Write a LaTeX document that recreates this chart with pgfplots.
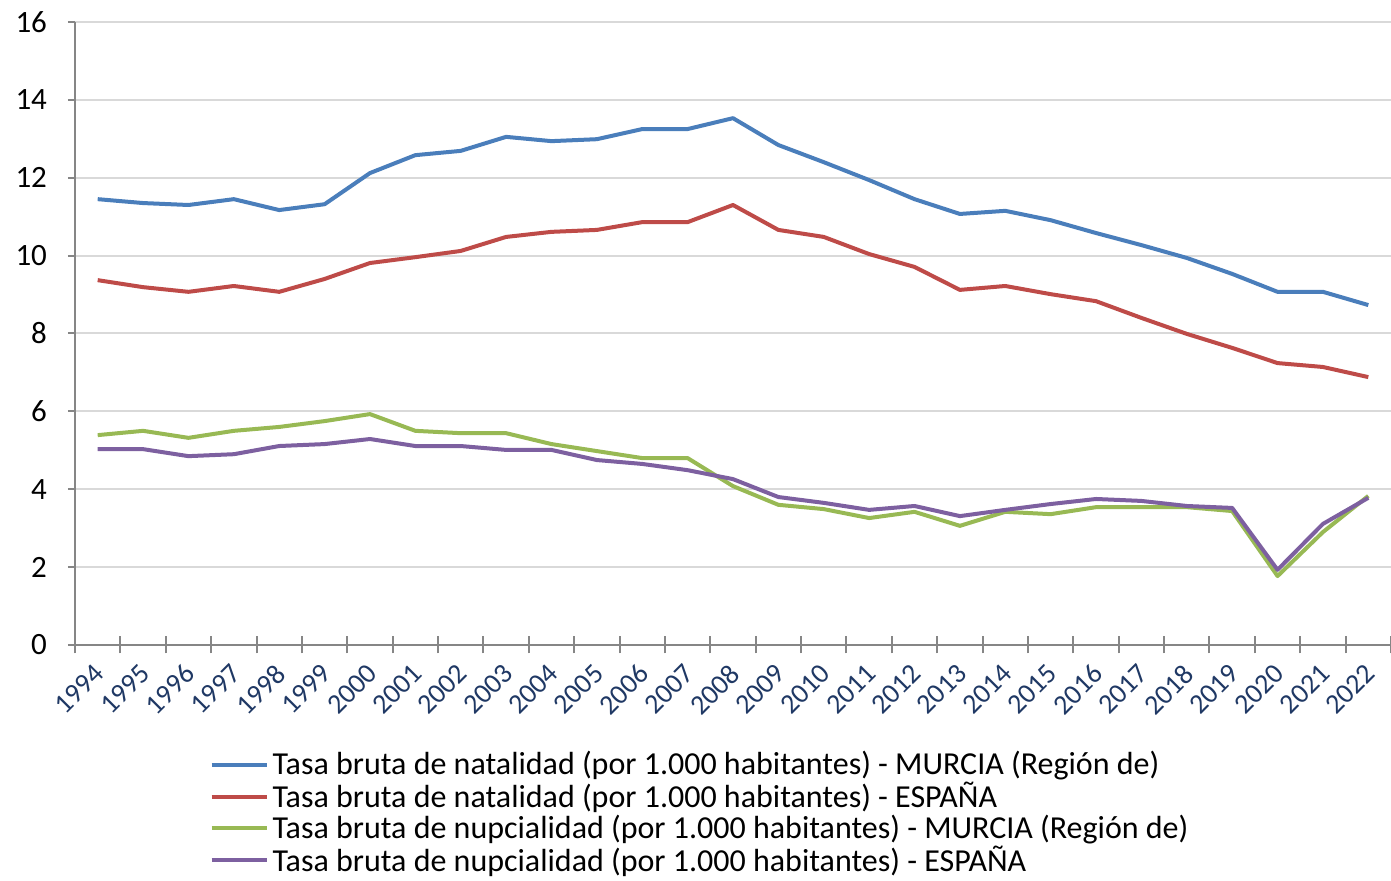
\documentclass[border=0pt]{standalone}
\usepackage{pgfplots}
\pgfplotsset{compat=1.18}
\usepackage{fontspec}
\setmainfont{Carlito}
\definecolor{cblue}{HTML}{4A7EBB}
\definecolor{cred}{HTML}{BE4B48}
\definecolor{cgreen}{HTML}{98B954}
\definecolor{cpurple}{HTML}{7D60A0}
\definecolor{navy}{HTML}{1F3864}
\definecolor{axgray}{HTML}{868686}
\definecolor{gridgray}{HTML}{D9D9D9}
\begin{document}
\begin{tikzpicture}
\begin{axis}[
  scale only axis, width=658pt, height=311.5pt,
  xmin=-0.5, xmax=28.5, ymin=0, ymax=16,
  axis x line*=bottom, axis y line*=left,
  axis line style={axgray, line width=1pt, -},
  ytick={0,2,...,16},
  ymajorgrids, major grid style={gridgray, line width=1pt},
  y tick style={axgray, line width=1pt}, ytick align=outside,
  y tick label style={font=\fontsize{15.5}{18}\selectfont, black, xshift=-7pt},
  major tick length=3.5pt, minor tick length=8.5pt,
  /pgf/number format/assume math mode=true,
  xtick={0,...,28},
  xticklabels={1994,1995,1996,1997,1998,1999,2000,2001,2002,2003,2004,2005,2006,2007,2008,2009,2010,2011,2012,2013,2014,2015,2016,2017,2018,2019,2020,2021,2022},
  major x tick style={draw=none},
  minor xtick={-0.5,0.5,...,28.5},
  minor x tick style={axgray, line width=1pt},
  xtick align=center,
  xticklabel style={font=\fontsize{14}{16}\selectfont, navy, rotate=45, anchor=east, inner sep=1pt, xshift=-5.5pt, yshift=-8pt},
  legend style={at={(0.102,-0.164)}, anchor=north west, draw=none, fill=none,
    font=\fontsize{16}{16.25}\selectfont, row sep=-1.8pt, inner sep=0pt,
    /tikz/every even column/.append style={column sep=0pt}},
  legend cell align=left,
  legend image code/.code={\draw[#1, line width=2pt] (0pt,0pt) -- (27.5pt,0pt);},
  every axis plot/.append style={line width=2pt, line join=round},
]
\addplot[cblue] coordinates {(0,11.45)(1,11.35)(2,11.3)(3,11.45)(4,11.17)(5,11.32)(6,12.12)(7,12.58)(8,12.69)(9,13.05)(10,12.94)(11,12.99)(12,13.25)(13,13.25)(14,13.53)(15,12.84)(16,12.4)(17,11.94)(18,11.45)(19,11.07)(20,11.15)(21,10.91)(22,10.58)(23,10.27)(24,9.94)(25,9.53)(26,9.07)(27,9.07)(28,8.73)};
\addlegendentry{Tasa bruta de natalidad (por 1.000 habitantes) - MURCIA (Región de)}
\addplot[cred] coordinates {(0,9.37)(1,9.19)(2,9.07)(3,9.22)(4,9.07)(5,9.4)(6,9.81)(7,9.96)(8,10.12)(9,10.48)(10,10.61)(11,10.66)(12,10.86)(13,10.86)(14,11.3)(15,10.66)(16,10.48)(17,10.04)(18,9.71)(19,9.12)(20,9.22)(21,9.01)(22,8.83)(23,8.4)(24,7.99)(25,7.63)(26,7.24)(27,7.14)(28,6.88)};
\addlegendentry{Tasa bruta de natalidad (por 1.000 habitantes) - ESPAÑA}
\addplot[cgreen] coordinates {(0,5.39)(1,5.5)(2,5.32)(3,5.5)(4,5.6)(5,5.75)(6,5.93)(7,5.5)(8,5.44)(9,5.44)(10,5.16)(11,4.98)(12,4.8)(13,4.8)(14,4.08)(15,3.6)(16,3.49)(17,3.26)(18,3.42)(19,3.06)(20,3.42)(21,3.36)(22,3.54)(23,3.54)(24,3.54)(25,3.44)(26,1.77)(27,2.9)(28,3.83)};
\addlegendentry{Tasa bruta de nupcialidad (por 1.000 habitantes) - MURCIA (Región de)}
\addplot[cpurple] coordinates {(0,5.03)(1,5.03)(2,4.85)(3,4.9)(4,5.11)(5,5.16)(6,5.29)(7,5.11)(8,5.11)(9,5.01)(10,5.01)(11,4.75)(12,4.65)(13,4.49)(14,4.26)(15,3.8)(16,3.65)(17,3.47)(18,3.57)(19,3.31)(20,3.47)(21,3.62)(22,3.75)(23,3.7)(24,3.57)(25,3.52)(26,1.93)(27,3.11)(28,3.78)};
\addlegendentry{Tasa bruta de nupcialidad (por 1.000 habitantes) - ESPAÑA}
\end{axis}
\pgfresetboundingbox
\path[use as bounding box] (-37.5pt,-118pt) rectangle (658pt,322.5pt);
\end{tikzpicture}
\end{document}
